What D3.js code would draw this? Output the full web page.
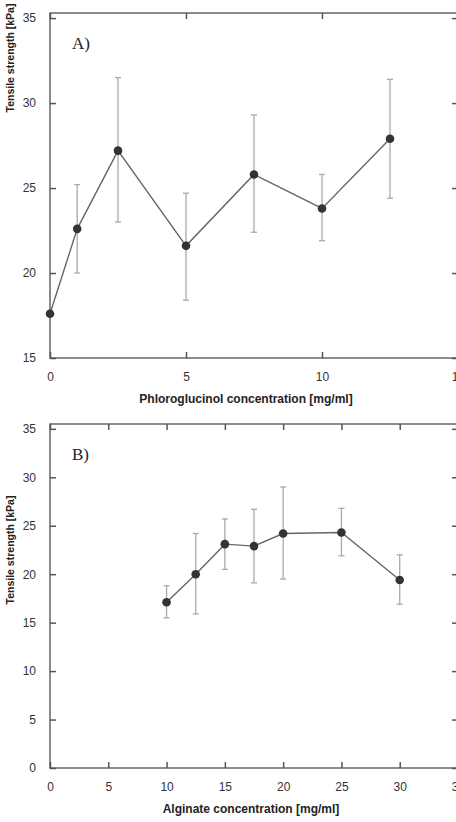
<!DOCTYPE html>
<html>
<head>
<meta charset="utf-8">
<script src="https://cdn.jsdelivr.net/npm/d3@7"></script>
<style>
  body { margin: 0; background: #fff; }
  svg { display: block; font-family: "Liberation Sans", Arial, sans-serif; }
</style>
</head>
<body>
<svg width="456" height="822"></svg>
<script>
// panel A - phloroglucinol
var phloroConc = [0, 1, 2.5, 5, 7.5, 10, 12.5];
var phloroStrength = [17.6, 22.6, 27.2, 21.6, 25.8, 23.8, 27.9];
var phloroLow = [null, 20.0, 23.0, 18.4, 22.4, 21.9, 24.4];
var phloroHigh = [null, 25.2, 31.5, 24.7, 29.3, 25.8, 31.4];
var phloroXTicks = [0, 5, 10, 15];
var phloroYTicks = [15, 20, 25, 30, 35];

// panel B - alginate
var algConc = [10, 12.5, 15, 17.5, 20, 25, 30];
var algStrength = [17.1, 20.0, 23.1, 22.9, 24.2, 24.3, 19.4];
var algLow = [15.5, 15.9, 20.5, 19.1, 19.5, 21.9, 16.9];
var algHigh = [18.8, 24.2, 25.7, 26.7, 29.0, 26.8, 22.0];
var algXTicks = [0, 5, 10, 15, 20, 25, 30, 35];
var algYTicks = [0, 5, 10, 15, 20, 25, 30, 35];

var svg = d3.select('svg');

function drawPanel(p) {
    var g = svg.append('g');
    var x = d3.scaleLinear().domain(p.xDomain).range([50, 458]);
    var y = d3.scaleLinear().domain(p.yDomain).range([p.bottom, p.top]);

    // frame
    g.append('rect')
        .attr('x', 50).attr('y', p.top)
        .attr('width', 408).attr('height', p.bottom - p.top)
        .attr('fill', 'none').attr('stroke', '#666').attr('stroke-width', 1.5);

    // bottom + left axes, ticks pointing inward
    var xa = g.append('g').attr('transform', 'translate(0,' + p.bottom + ')')
        .call(d3.axisBottom(x).tickValues(p.xTicks).tickSizeInner(-6).tickSizeOuter(0).tickPadding(14));
    var ya = g.append('g').attr('transform', 'translate(50,0)')
        .call(d3.axisLeft(y).tickValues(p.yTicks).tickSizeInner(-6).tickSizeOuter(0).tickPadding(14));
    // top + right ticks
    var xt = g.append('g').attr('transform', 'translate(0,' + p.top + ')')
        .call(d3.axisTop(x).tickValues(p.xTicks).tickSizeInner(-6).tickSizeOuter(0).tickFormat(''));
    var yr = g.append('g').attr('transform', 'translate(458,0)')
        .call(d3.axisRight(y).tickValues(p.yTicks).tickSizeInner(-6).tickSizeOuter(0).tickFormat(''));

    [xa, ya, xt, yr].forEach(function(a) {
        a.select('.domain').remove();
        a.selectAll('line').attr('stroke', '#555').attr('stroke-width', 1.5);
        a.selectAll('text').attr('fill', '#333').style('font-size', '12px')
            .style('font-family', '"Liberation Sans", Arial, sans-serif');
    });

    // error bars
    var idx = d3.range(p.xs.length).filter(function(i) { return p.lo[i] != null; });
    var eb = g.append('g').attr('stroke', '#aaa').attr('stroke-width', 1.3);
    eb.selectAll('.v').data(idx).enter().append('line')
        .attr('x1', function(i) { return x(p.xs[i]); })
        .attr('x2', function(i) { return x(p.xs[i]); })
        .attr('y1', function(i) { return y(p.lo[i]); })
        .attr('y2', function(i) { return y(p.hi[i]); });
    ['lo', 'hi'].forEach(function(k) {
        eb.selectAll('.c' + k).data(idx).enter().append('line')
            .attr('x1', function(i) { return x(p.xs[i]) - 3; })
            .attr('x2', function(i) { return x(p.xs[i]) + 3; })
            .attr('y1', function(i) { return y(p[k][i]); })
            .attr('y2', function(i) { return y(p[k][i]); });
    });

    // connecting line
    var line = d3.line()
        .x(function(i) { return x(p.xs[i]); })
        .y(function(i) { return y(p.ys[i]); });
    g.append('path')
        .attr('d', line(d3.range(p.xs.length)))
        .attr('fill', 'none').attr('stroke', '#666').attr('stroke-width', 1.4);

    // markers
    g.selectAll('.pt').data(d3.range(p.xs.length)).enter().append('circle')
        .attr('cx', function(i) { return x(p.xs[i]); })
        .attr('cy', function(i) { return y(p.ys[i]); })
        .attr('r', 4.3)
        .attr('fill', '#333');

    // panel letter
    g.append('text')
        .attr('x', 72).attr('y', p.top + 36)
        .attr('font-family', '"Liberation Serif", "Times New Roman", serif')
        .attr('font-size', 17).attr('fill', '#222')
        .text(p.letter);

    // axis titles
    g.append('text')
        .attr('x', p.xTitleX).attr('y', p.bottom + 45)
        .attr('text-anchor', 'middle')
        .attr('font-size', 12).attr('font-weight', 'bold').attr('fill', '#222')
        .text(p.xTitle);
    g.append('text')
        .attr('transform', 'translate(14,' + p.yTitleY + ') rotate(-90)')
        .attr('text-anchor', 'middle')
        .attr('font-size', 10.5).attr('font-weight', 'bold').attr('fill', '#222')
        .text('Tensile strength [kPa]');
}

drawPanel({
    xs: phloroConc, ys: phloroStrength, lo: phloroLow, hi: phloroHigh,
    xDomain: [0, 15], yDomain: [15, 35.3],
    xTicks: phloroXTicks, yTicks: phloroYTicks,
    top: 13, bottom: 358, letter: 'A)',
    xTitle: 'Phloroglucinol concentration [mg/ml]', xTitleX: 246, yTitleY: 58
});

drawPanel({
    xs: algConc, ys: algStrength, lo: algLow, hi: algHigh,
    xDomain: [0, 35], yDomain: [0, 35.5],
    xTicks: algXTicks, yTicks: algYTicks,
    top: 424, bottom: 768, letter: 'B)',
    xTitle: 'Alginate concentration [mg/ml]', xTitleX: 251, yTitleY: 550
});
</script>
</body>
</html>
